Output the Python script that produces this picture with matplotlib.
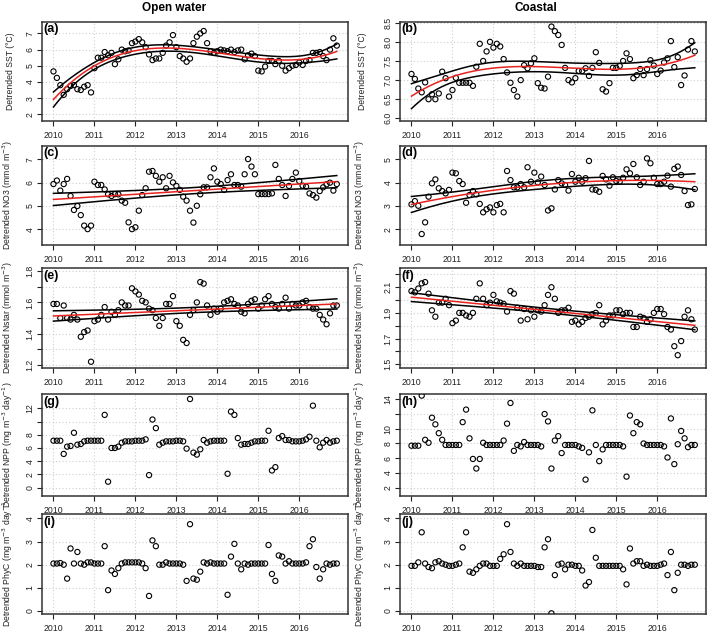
import numpy as np
import matplotlib.pyplot as plt

plt.rcParams['font.family'] = ['Liberation Sans', 'DejaVu Sans']

# monthly time axis, Jan 2010 .. Dec 2016
months = np.arange(84)
years = 2010 + months / 12.0
year_ticks = [2010, 2011, 2012, 2013, 2014, 2015, 2016]

# (a) open water SST
sst_open = [4.65, 4.25, 3.8, 3.2, 3.55, 3.75, 3.8, 3.55, 3.5, 3.7, 3.8, 3.35,
            4.85, 5.5, 5.5, 5.85, 5.65, 5.8, 5.1, 5.4, 6.0, 5.9, 5.95, 6.4,
            6.5, 6.65, 6.45, 6.15, 5.7, 5.35, 5.45, 5.45, 5.8, 6.25, 6.45, 6.9,
            6.15, 5.6, 5.45, 5.25, 5.45, 6.4, 6.8, 7.0, 7.15, 6.4, 5.9, 5.8,
            5.9, 6.0, 5.95, 5.9, 6.0, 5.85, 5.95, 6.0, 5.4, 5.65, 5.75, 5.6,
            4.7, 4.65, 4.95, 5.3, 5.3, 5.1, 5.3, 5.0, 4.7, 4.85, 5.0, 5.05,
            5.2, 5.05, 5.3, 5.35, 5.8, 5.8, 5.85, 5.6, 5.35, 6.0, 6.7, 6.25]
# (b) coastal SST
sst_coast = [7.16, 7.03, 6.78, 6.68, 6.94, 6.5, 6.63, 6.5, 6.65, 7.22, 7.05, 6.57,
             6.74, 7.06, 6.93, 6.93, 6.93, 6.93, 6.85, 7.35, 7.95, 7.5, 7.75, 8.0,
             7.85, 7.95, 7.88, 7.55, 7.2, 6.93, 6.74, 6.57, 7.0, 7.39, 7.31, 7.44,
             7.57, 6.92, 6.8, 6.78, 7.09, 8.4, 8.28, 8.18, 7.92, 7.32, 7.0, 6.94,
             7.05, 7.24, 7.24, 7.31, 7.11, 7.32, 7.73, 7.45, 6.76, 6.7, 6.92, 7.32,
             7.32, 7.37, 7.5, 7.7, 7.55, 7.05, 7.13, 7.29, 7.13, 7.29, 7.52, 7.38,
             7.16, 7.25, 7.46, 7.57, 8.02, 7.34, 7.6, 6.87, 7.12, 7.8, 8.02, 7.75]
# (c) open water NO3
no3_open = [5.94, 6.09, 5.66, 5.94, 6.16, 5.43, 4.83, 5.0, 4.61, 4.16, 4.01, 4.16,
            6.04, 5.9, 5.9, 5.71, 5.5, 5.43, 5.51, 5.5, 5.23, 5.14, 4.3, 4.01,
            4.09, 4.8, 5.47, 5.76, 6.47, 6.5, 6.29, 6.04, 6.23, 5.76, 6.29, 6.01,
            5.86, 5.69, 5.4, 5.23, 4.8, 4.29, 5.01, 5.5, 5.8, 5.8, 6.23, 6.61,
            6.04, 5.94, 5.69, 6.11, 6.36, 5.9, 5.9, 5.83, 6.36, 7.01, 6.69, 6.36,
            5.51, 5.51, 5.51, 5.51, 5.54, 6.76, 6.16, 5.9, 5.43, 5.86, 6.16, 6.43,
            6.07, 5.87, 5.83, 5.54, 5.47, 5.36, 5.64, 5.8, 5.93, 6.0, 5.66, 5.94]
# (d) coastal NO3
no3_coast = [3.07, 3.21, 3.01, 1.8, 2.3, 3.4, 3.97, 4.14, 3.76, 3.64, 3.54, 3.69,
             4.43, 4.4, 4.07, 3.94, 3.14, 3.47, 3.64, 3.5, 3.09, 2.73, 2.86, 2.94,
             2.73, 3.04, 3.09, 2.73, 4.5, 4.11, 3.8, 3.8, 3.94, 3.8, 4.66, 4.04,
             4.43, 4.01, 4.26, 3.9, 2.81, 2.9, 3.71, 4.11, 3.97, 3.9, 3.66, 4.37,
             4.04, 4.21, 4.04, 4.19, 4.93, 3.71, 3.69, 3.61, 4.29, 4.14, 3.87, 4.23,
             4.07, 4.04, 4.21, 4.57, 4.4, 4.8, 4.23, 3.9, 4.04, 5.04, 4.83, 4.21,
             3.94, 3.94, 4.04, 4.3, 3.83, 4.59, 4.69, 4.33, 3.64, 3.04, 3.07, 3.73]
# (e) open water Nstar
nstar_open = [1.59, 1.59, 1.50, 1.58, 1.50, 1.49, 1.52, 1.49, 1.38, 1.41, 1.42, 1.22,
              1.48, 1.49, 1.52, 1.57, 1.49, 1.54, 1.52, 1.55, 1.60, 1.58, 1.58, 1.69,
              1.67, 1.65, 1.61, 1.60, 1.56, 1.55, 1.50, 1.45, 1.50, 1.59, 1.59, 1.64,
              1.48, 1.45, 1.36, 1.34, 1.52, 1.55, 1.60, 1.73, 1.72, 1.58, 1.52, 1.56,
              1.54, 1.56, 1.60, 1.61, 1.62, 1.59, 1.58, 1.54, 1.53, 1.59, 1.61, 1.62,
              1.56, 1.58, 1.62, 1.64, 1.59, 1.57, 1.56, 1.59, 1.63, 1.56, 1.59, 1.58,
              1.58, 1.60, 1.61, 1.57, 1.56, 1.56, 1.52, 1.49, 1.46, 1.53, 1.58, 1.58]
# (f) coastal Nstar
nstar_coast = [2.07, 2.06, 2.09, 2.13, 2.14, 2.05, 1.92, 1.87, 1.98, 1.98, 2.01, 1.96,
               1.82, 1.84, 1.90, 1.90, 1.88, 1.87, 1.90, 2.01, 2.13, 2.01, 1.96, 1.98,
               2.04, 1.99, 1.98, 1.97, 1.91, 2.07, 2.05, 1.94, 1.84, 1.93, 1.85, 1.92,
               1.87, 1.92, 1.91, 1.96, 2.04, 2.10, 2.01, 1.90, 1.92, 1.92, 1.94, 1.83,
               1.84, 1.81, 1.83, 1.86, 1.87, 1.89, 1.90, 1.96, 1.81, 1.84, 1.88, 1.88,
               1.92, 1.92, 1.89, 1.90, 1.90, 1.79, 1.79, 1.87, 1.86, 1.83, 1.85, 1.90,
               1.93, 1.93, 1.89, 1.79, 1.77, 1.64, 1.57, 1.68, 1.87, 1.92, 1.85, 1.77]
# (g) open water NPP
npp_open = [7.1, 7.1, 7.1, 5.1, 6.2, 6.3, 8.3, 6.5, 6.6, 7.0, 7.1, 7.1,
            7.1, 7.1, 7.1, 11.0, 0.9, 6.0, 6.0, 6.2, 6.8, 7.0, 7.0, 7.0,
            7.1, 7.1, 7.1, 7.3, 1.9, 10.3, 9.0, 6.5, 6.8, 7.0, 7.0, 7.0,
            7.1, 7.1, 7.0, 5.9, 13.4, 5.3, 5.0, 5.8, 7.2, 6.8, 7.0, 7.1,
            7.1, 7.1, 7.1, 2.1, 11.5, 11.0, 7.5, 6.5, 6.6, 6.6, 6.8, 7.0,
            7.0, 7.1, 7.1, 8.6, 2.6, 3.1, 7.5, 7.8, 7.2, 7.2, 7.0, 7.0,
            7.0, 7.1, 7.3, 7.7, 12.4, 7.1, 6.1, 6.8, 7.2, 6.8, 7.0, 7.1]
# (h) coastal NPP
npp_coast = [7.7, 7.7, 7.7, 14.5, 8.5, 8.1, 11.5, 10.6, 9.4, 8.5, 7.8, 7.8,
             7.8, 7.8, 7.8, 10.9, 12.6, 8.7, 5.9, 4.6, 5.9, 8.1, 7.8, 7.8,
             7.8, 7.8, 7.8, 8.4, 10.7, 13.5, 7.0, 7.8, 7.6, 8.2, 7.8, 7.8,
             7.8, 7.8, 7.6, 12.0, 11.0, 4.6, 8.4, 9.0, 6.7, 7.8, 7.8, 7.8,
             7.8, 7.6, 7.4, 3.1, 6.8, 12.5, 7.8, 5.6, 7.2, 7.8, 7.8, 7.8,
             7.8, 7.8, 7.6, 3.5, 11.8, 9.4, 10.9, 10.6, 8.0, 7.8, 7.8, 7.8,
             7.8, 7.8, 7.6, 6.1, 11.4, 5.2, 7.9, 9.7, 8.7, 7.5, 7.8, 7.8]
# (i) open water PhyC
phyc_open = [2.05, 2.05, 2.07, 2.0, 1.4, 2.7, 2.05, 2.55, 2.05, 2.0, 2.1, 2.1,
             2.05, 2.05, 2.05, 2.8, 0.9, 1.75, 1.6, 1.85, 2.05, 2.1, 2.1, 2.1,
             2.1, 2.1, 2.05, 1.85, 0.65, 3.05, 2.8, 2.0, 2.0, 2.1, 2.05, 2.05,
             2.05, 2.05, 2.0, 1.3, 3.75, 1.4, 1.35, 1.7, 2.1, 2.05, 2.1, 2.05,
             2.05, 2.05, 2.05, 0.7, 2.35, 2.9, 2.05, 1.8, 2.05, 2.0, 2.05, 2.05,
             2.05, 2.05, 2.05, 2.85, 1.6, 1.3, 2.4, 2.35, 2.05, 2.15, 2.05, 2.05,
             2.05, 2.05, 2.1, 2.8, 3.1, 1.9, 1.4, 1.8, 2.05, 2.0, 2.05, 2.05]
# (j) coastal PhyC
phyc_coast = [1.95, 1.95, 2.1, 3.4, 2.05, 1.9, 1.85, 2.1, 2.15, 2.05, 2.0, 1.95,
              1.95, 2.0, 2.05, 2.75, 3.4, 1.7, 1.65, 1.8, 1.95, 2.05, 2.05, 1.95,
              1.95, 1.95, 2.25, 2.45, 3.75, 2.55, 2.05, 1.95, 2.05, 1.95, 1.95, 1.95,
              1.95, 1.9, 1.9, 2.75, 3.1, -0.1, 1.55, 2.0, 2.05, 1.8, 2.0, 2.0,
              1.95, 1.95, 1.75, 1.1, 1.25, 3.5, 2.3, 1.95, 1.95, 1.95, 1.95, 1.95,
              1.95, 1.95, 1.8, 1.15, 2.7, 2.05, 2.15, 2.15, 1.95, 2.0, 1.95, 1.95,
              1.95, 2.0, 2.05, 1.55, 2.55, 0.9, 1.65, 2.0, 2.0, 1.95, 2.0, 2.0]

panel_letters = ['(a)', '(b)', '(c)', '(d)', '(e)', '(f)', '(g)', '(h)', '(i)', '(j)']
series = [sst_open, sst_coast, no3_open, no3_coast, nstar_open, nstar_coast,
          npp_open, npp_coast, phyc_open, phyc_coast]
# polynomial degree of the fitted trend (None = no fit drawn)
fit_degree = [3, 3, 1, 2, 1, 1, None, None, None, None]
ylabels = ['Detrended SST (\u00b0C)'] * 2 + \
          ['Detrended NO3 (mmol m$^{-3}$)'] * 2 + \
          ['Detrended Nstar (mmol m$^{-3}$)'] * 2 + \
          ['Detrended NPP (mg m$^{-3}$ day$^{-1}$)'] * 2 + \
          ['Detrended PhyC (mg m$^{-3}$ day$^{-1}$'] * 2

# axis setup per panel: (ylim, ticks, labelled ticks)
yaxes = [
    ((1.58, 7.71), [2, 3, 4, 5, 6, 7], None),
    ((5.93, 8.52), [6.0, 6.5, 7.0, 7.5, 8.0, 8.5], None),
    ((3.33, 7.57), [4, 5, 6, 7], None),
    ((1.33, 5.57), [2, 3, 4, 5], None),
    ((1.18, 1.82), [1.2, 1.3, 1.4, 1.5, 1.6, 1.7, 1.8], [1.2, 1.4, 1.6, 1.8]),
    ((1.47, 2.25), [1.5, 1.6, 1.7, 1.8, 1.9, 2.0, 2.1, 2.2], [1.5, 1.7, 1.9, 2.1]),
    ((-1.26, 14.16), [0, 2, 4, 6, 8, 10, 12], [0, 2, 4, 6, 8, 12]),
    ((0.87, 14.72), [2, 4, 6, 8, 10, 12, 14], [2, 4, 6, 8, 10, 14]),
    ((-0.13, 4.19), [0, 1, 2, 3, 4], None),
    ((-0.13, 4.19), [0, 1, 2, 3, 4], None),
]


def fit_band(x, y, deg):
    y = np.asarray(y, float)
    xc = x - 2013.5
    X = np.vander(xc, deg + 1)
    beta = np.linalg.lstsq(X, y, rcond=None)[0]
    resid = y - X @ beta
    s2 = resid @ resid / (len(y) - deg - 1)
    cov = s2 * np.linalg.inv(X.T @ X)
    xx = np.linspace(x.min(), x.max(), 200)
    Xn = np.vander(xx - 2013.5, deg + 1)
    yhat = Xn @ beta
    se = np.sqrt(np.einsum('ij,jk,ik->i', Xn, cov, Xn))
    return xx, yhat, yhat - 1.99 * se, yhat + 1.99 * se


W, H = 709, 634
fig = plt.figure(figsize=(W / 100, H / 100), dpi=100)

col_x = [42, 400]
col_w = 306
label_off = [-27, -33]   # px from axes left to the y label
row_tb = [(22, 121), (146, 245), (268, 368), (394, 496), (514, 614)]

for i in range(10):
    r, c = divmod(i, 2)
    top, bot = row_tb[r]
    ax = fig.add_axes([col_x[c] / W, 1 - bot / H, col_w / W, (bot - top) / H])
    y = series[i]

    ax.scatter(years, y, s=14, facecolors='none', edgecolors='black',
               linewidths=0.8, zorder=3)

    if fit_degree[i] is not None:
        xx, yhat, lo, hi = fit_band(years, y, fit_degree[i])
        ax.plot(xx, hi, color='black', lw=1.1, zorder=4)
        ax.plot(xx, lo, color='black', lw=1.1, zorder=4)
        ax.plot(xx, yhat, color='#e8231f', lw=1.1, zorder=5)

    ylim, ticks, labelled = yaxes[i]
    ax.set_xlim(2009.72, 2017.19)
    ax.set_ylim(*ylim)
    ax.set_xticks(year_ticks)
    ax.set_xticklabels([str(t) for t in year_ticks])
    ax.set_yticks(ticks)
    if labelled is None:
        labelled = ticks
    ax.set_yticklabels([('%g' % t if i != 1 else '%.1f' % t) if t in labelled else ''
                        for t in ticks])
    for lab in ax.get_yticklabels():
        lab.set_rotation(90)
        lab.set_va('center')

    ax.grid(True, color='#cfcfcf', linestyle=(0, (1, 2)), linewidth=0.8, zorder=0)
    ax.tick_params(axis='both', direction='out', length=3.3, width=0.8,
                   labelsize=6.3, colors='#222222')
    ax.tick_params(axis='x', pad=4)
    ax.tick_params(axis='y', pad=2)
    for sp in ax.spines.values():
        sp.set_color('#333333')
        sp.set_linewidth(1.1)

    ax.set_ylabel(ylabels[i], fontsize=6.2, color='#222222')
    ax.yaxis.set_label_coords(label_off[c] / col_w, 0.5)
    ax.text(0.004, 0.985, panel_letters[i], transform=ax.transAxes,
            ha='left', va='top', fontsize=9, fontweight='bold', zorder=6)

fig.text(174 / W, 1 - 8 / H, 'Open water', ha='center', va='center',
         fontsize=8.5, fontweight='bold')
fig.text(536 / W, 1 - 8 / H, 'Coastal', ha='center', va='center',
         fontsize=8.5, fontweight='bold')

fig.savefig('out.png', dpi=100)
